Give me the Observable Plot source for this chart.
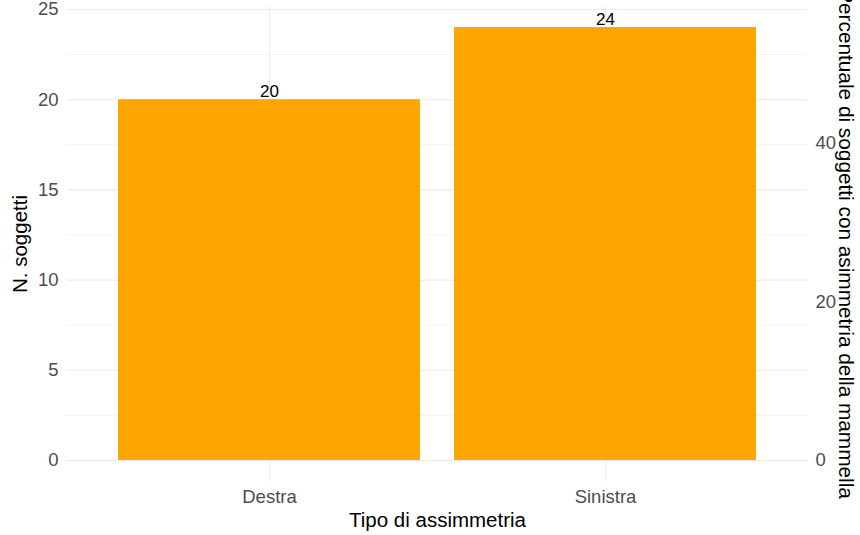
<!DOCTYPE html>
<html>
<head>
<meta charset="utf-8">
<script src="https://cdn.jsdelivr.net/npm/d3@7"></script>
<script src="https://cdn.jsdelivr.net/npm/@observablehq/plot@0.6"></script>
<style>
  html, body { margin: 0; padding: 0; background: #fff; }
  #chart svg { display: block; }
</style>
</head>
<body>
<div id="chart"></div>
<script>
// Data
const categories = ["Destra", "Sinistra"];
const counts = [20, 24];
const totalSubjects = 44;
const yTicks = [0, 5, 10, 15, 20, 25];
const yMinorTicks = [2.5, 7.5, 12.5, 17.5, 22.5];
const percentTicks = [0, 20, 40];

const xTitle = "Tipo di assimmetria";
const yTitle = "N. soggetti";
const y2Title = "Percentuale di soggetti con asimmetria della mammella";

const data = categories.map((c, i) => ({cat: c, n: counts[i]}));

const font = "'Liberation Sans', Arial, Helvetica, sans-serif";

const chart = Plot.plot({
  width: 860,
  height: 535,
  marginLeft: 67,
  marginRight: 53,
  marginTop: 5.4,
  marginBottom: 53.4,
  style: {fontFamily: font, fontSize: "18.5px", color: "#4D4D4D", background: "#fff"},
  x: {domain: categories, padding: 0.1, paddingOuter: 0.15, axis: null},
  y: {domain: [-1.2, 25.2], axis: null},
  marks: [
    Plot.ruleY(yMinorTicks, {stroke: "#EBEBEB", strokeWidth: 0.6}),
    Plot.ruleY(yTicks, {stroke: "#EBEBEB", strokeWidth: 1.1}),
    Plot.gridX({stroke: "#EBEBEB", strokeOpacity: 1, strokeWidth: 1.1}),
    Plot.barY(data, {x: "cat", y: "n", fill: "#FFA500"}),
    Plot.text(data, {x: "cat", y: "n", text: d => String(d.n), lineAnchor: "bottom", dy: -3, fill: "black", fontSize: 17}),
    Plot.axisX({tickSize: 0, tickPadding: 8, label: null, fill: "#4D4D4D"}),
    Plot.axisY({anchor: "left", ticks: yTicks, tickSize: 0, tickPadding: 9, label: null, fill: "#4D4D4D"}),
    Plot.axisY({anchor: "right", ticks: percentTicks.map(p => p * totalSubjects / 100),
      tickFormat: d => String(Math.round(d * 100 / totalSubjects)), tickSize: 0, tickPadding: 8, label: null, fill: "#4D4D4D"}),
    Plot.text([xTitle], {frameAnchor: "bottom", dy: 45, fill: "black", fontSize: 20.5}),
    Plot.text([yTitle], {frameAnchor: "left", textAnchor: "middle", dx: -47, rotate: -90, fill: "black", fontSize: 20.5}),
    Plot.text([y2Title], {frameAnchor: "right", textAnchor: "middle", dx: 38, rotate: 90, fill: "black", fontSize: 20.8})
  ]
});
document.getElementById("chart").appendChild(chart);
</script>
</body>
</html>
